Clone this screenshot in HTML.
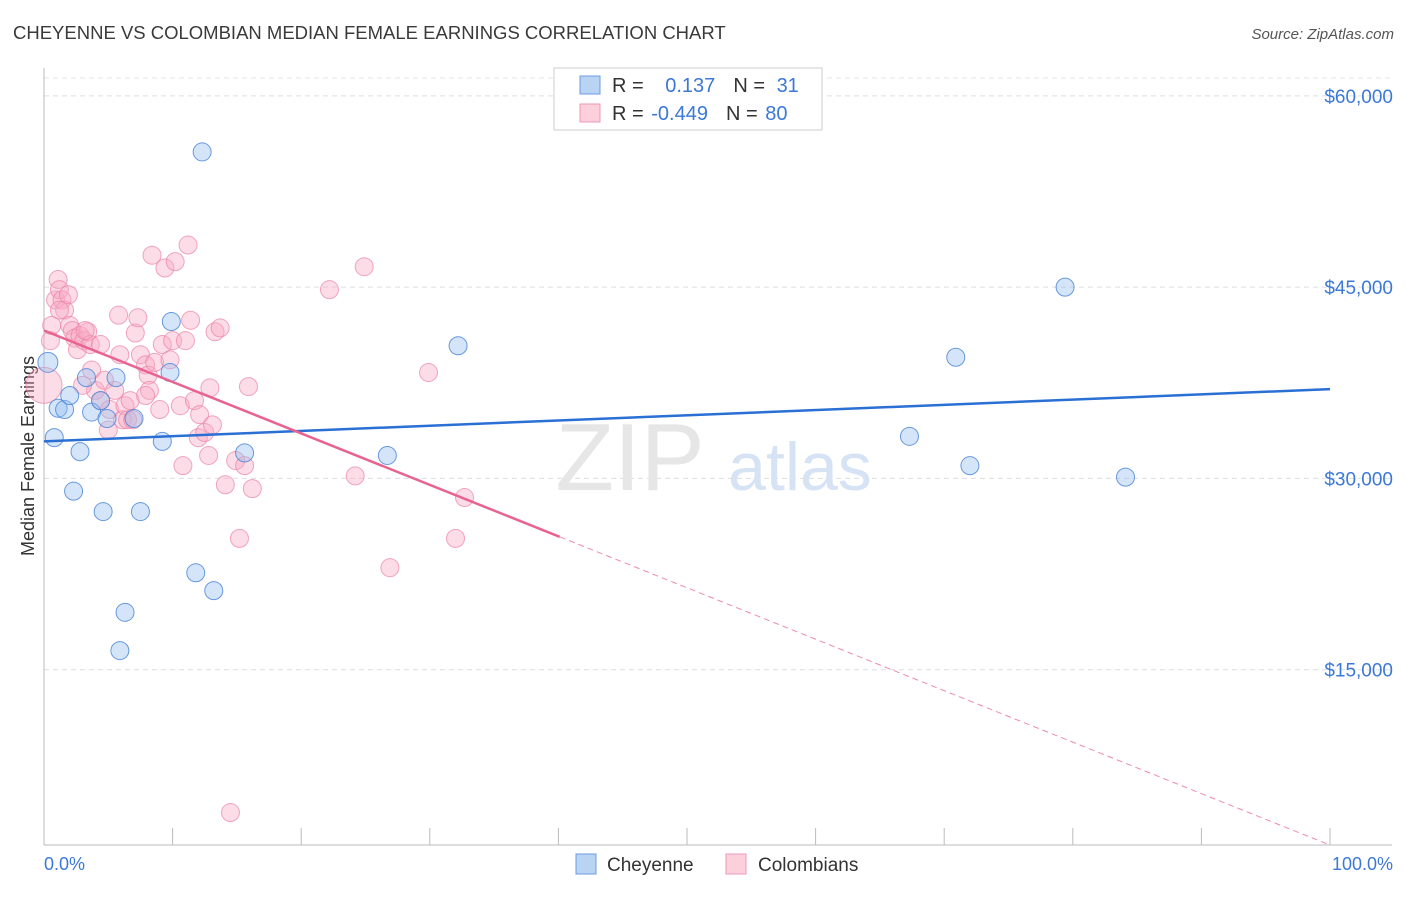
<!DOCTYPE html>
<html><head><meta charset="utf-8"><style>
body{margin:0;background:#fff;font-family:"Liberation Sans",sans-serif}
svg text{font-family:"Liberation Sans",sans-serif}
</style></head><body>
<svg id="c" width="1406" height="892">
<text x="13" y="39" font-size="18.5" fill="#3a3a3a">CHEYENNE VS COLOMBIAN MEDIAN FEMALE EARNINGS CORRELATION CHART</text>
<text x="1394" y="39" font-size="15" fill="#555" font-style="italic" text-anchor="end">Source: ZipAtlas.com</text>
<g id="grid"></g>
<text x="630" y="490" font-size="96" fill="#e6e6e6" font-family="Liberation Serif" text-anchor="middle">ZIP</text>
<text x="800" y="490" font-size="68" fill="#d6e3f5" text-anchor="middle">atlas</text>
<line x1="44" y1="68" x2="44" y2="845" stroke="#bbb"/>
<line x1="44" y1="845" x2="1392" y2="845" stroke="#bbb"/>
<text x="34" y="456" font-size="18" fill="#333" text-anchor="middle" transform="rotate(-90 34 456)">Median Female Earnings</text>
<text x="44" y="870" font-size="18" fill="#3b78d8">0.0%</text>
<text x="1393" y="870" font-size="18" fill="#3b78d8" text-anchor="end">100.0%</text>
<g id="pts"></g>
<g id="lines"></g>
<g>
<rect x="554" y="68" width="268" height="62" fill="#fff" stroke="#ccc"/>
<rect x="580" y="76" width="20" height="18" fill="#b9d3f3" stroke="#6a9be0"/>
<rect x="580" y="104" width="20" height="18" fill="#fbcfdc" stroke="#ee99b5"/>
<text x="612" y="92" font-size="20" fill="#333">R = <tspan fill="#3b78d8" dx="16">0.137</tspan><tspan dx="18" fill="#333">N = </tspan><tspan fill="#3b78d8" dx="6">31</tspan></text>
<text x="612" y="120" font-size="20" fill="#333">R = <tspan fill="#3b78d8" dx="2">-0.449</tspan><tspan dx="18" fill="#333">N = </tspan><tspan fill="#3b78d8" dx="2">80</tspan></text>
</g>
<g>
<rect x="576" y="854" width="20" height="20" fill="#b9d3f3" stroke="#6a9be0"/>
<text x="607" y="871" font-size="19" fill="#333">Cheyenne</text>
<rect x="726" y="854" width="20" height="20" fill="#fbcfdc" stroke="#ee99b5"/>
<text x="758" y="871" font-size="19" fill="#333">Colombians</text>
</g>
</svg>
<script>
const yTicks=[15000,30000,45000,60000];
const yTickLabels=["$15,000","$30,000","$45,000","$60,000"];
const xTicks=[0,10,20,30,40,50,60,70,80,90,100];
const blueX=[0.3,0.8,1.1,1.6,2.0,2.3,2.8,3.3,3.7,4.4,4.6,4.9,5.6,6.3,5.9,7.0,7.5,9.2,9.8,9.9,11.8,12.3,13.2,15.6,26.7,32.2,67.3,70.9,72.0,79.4,84.1];
const blueY=[39.1,33.2,35.5,35.4,36.5,29.0,32.1,37.9,35.2,36.1,27.4,34.7,37.9,19.5,16.5,34.7,27.4,32.9,38.3,42.3,22.6,55.6,21.2,32.0,31.8,40.4,33.3,39.5,31.0,45.0,30.1];
const pinkX=[0,0.5,0.6,0.9,1.1,1.2,1.4,1.6,1.9,2.0,2.2,2.4,2.6,2.8,3.1,3.4,3.6,3.7,4.0,4.4,4.7,5.0,5.1,5.5,5.8,5.9,6.1,6.3,6.5,6.7,6.9,7.1,7.3,7.5,7.9,8.1,8.2,8.4,8.6,9.0,9.2,9.4,9.8,10.0,10.2,10.6,10.8,11.0,11.2,11.4,11.7,12.0,12.1,12.5,12.8,12.9,13.1,13.3,13.7,14.1,14.5,14.9,15.2,15.6,15.9,16.2,22.2,24.2,24.9,26.9,29.9,32.0,32.7,1.2,3.0,4.4,7.9,3.2];
const pinkY=[37.3,40.8,42.0,44.0,45.6,44.8,44.0,43.2,44.4,42.0,41.6,41.0,40.1,41.2,40.8,41.5,40.5,38.5,36.9,36.1,37.7,33.8,35.4,36.9,42.8,39.7,34.6,35.7,34.6,36.1,34.6,41.4,42.6,39.7,38.9,38.1,36.9,47.5,39.1,35.4,40.5,46.5,39.3,40.8,47.0,35.7,31.0,40.8,48.3,42.4,36.1,33.2,35.0,33.6,31.8,37.1,34.2,41.5,41.8,29.5,3.8,31.4,25.3,31.0,37.2,29.2,44.8,30.2,46.6,23.0,38.3,25.3,28.5,43.2,37.3,40.5,36.5,41.6];
const blueTrend=[32.9,37.0];
const pinkTrend=[41.6,1.25];
const pinkSolidEnd=40.1;
const NS="http://www.w3.org/2000/svg";
const xs=p=>44+p*12.86, ys=v=>861-v*12.753/1000;
function mk(t,a,parent){const e=document.createElementNS(NS,t);for(const k in a)e.setAttribute(k,a[k]);document.getElementById(parent).appendChild(e);return e;}
yTicks.forEach((v,i)=>{
 const l=mk('line',{x1:44,x2:1392,y1:ys(v),y2:ys(v),stroke:'#ddd','stroke-dasharray':'5,4'},'grid');
 
 
 const t=mk('text',{x:1393,y:ys(v)+7,'font-size':19,fill:'#3b78d8','text-anchor':'end'},'grid');t.textContent=yTickLabels[i];
 
 
});
const topGrid=mk('line',{x1:44,x2:1392,y1:78,y2:78,stroke:'#e4e4e4','stroke-dasharray':'5,4'},'grid');


xTicks.forEach(p=>{const l=mk('line',{x1:xs(p),x2:xs(p),y1:828,y2:845,stroke:'#bbb'},'grid');
 
 });
pinkX.forEach((p,i)=>{const c=mk('circle',{cx:xs(p),cy:ys(pinkY[i]*1000),r:i==0?18:9,fill:'rgba(247,170,195,0.4)',stroke:'rgba(235,130,165,0.7)','stroke-width':1},'pts');
 
 });
blueX.forEach((p,i)=>{const c=mk('circle',{cx:xs(p),cy:ys(blueY[i]*1000),r:i==0?10:9,fill:'rgba(150,190,240,0.4)',stroke:'rgba(70,130,215,0.8)','stroke-width':1},'pts');
 
 });
const bl=mk('line',{x1:xs(0),y1:ys(blueTrend[0]*1000),x2:xs(100),y2:ys(blueTrend[1]*1000),stroke:'#2a6fd4','stroke-width':2.5},'lines');


const pv=p=>pinkTrend[0]+(pinkTrend[1]-pinkTrend[0])*p/100;
const pl=mk('line',{x1:xs(0),y1:ys(pinkTrend[0]*1000),x2:xs(pinkSolidEnd),y2:ys(pv(pinkSolidEnd)*1000),stroke:'#e8638f','stroke-width':2.5},'lines');


const pd=mk('line',{x1:xs(pinkSolidEnd),y1:ys(pv(pinkSolidEnd)*1000),x2:xs(100),y2:ys(pinkTrend[1]*1000),stroke:'#ee8aab','stroke-width':1,'stroke-dasharray':'6,4'},'lines');


</script>
</body></html>
